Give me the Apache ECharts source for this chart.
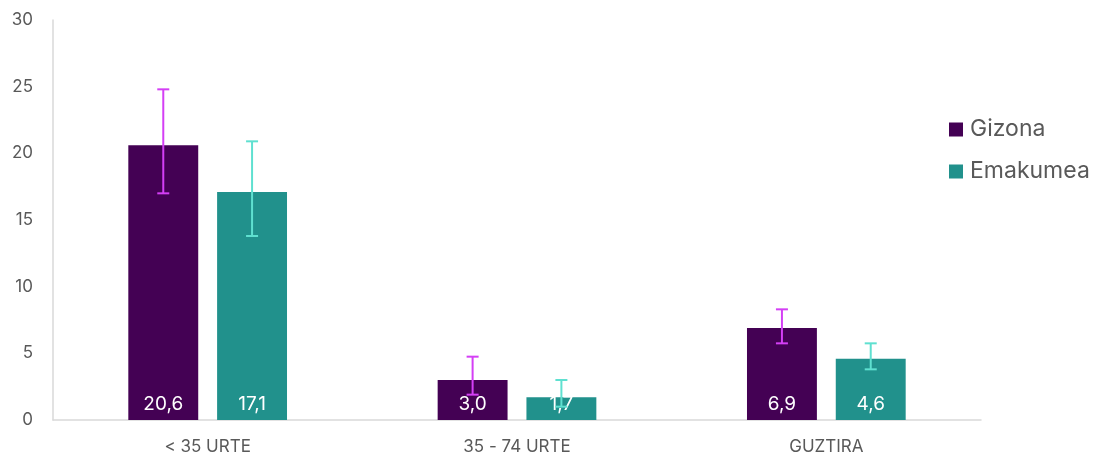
<!DOCTYPE html>
<html><head><meta charset="utf-8">
<script src="https://cdn.jsdelivr.net/npm/echarts@6/dist/echarts.min.js"></script>
<style>html,body{margin:0;padding:0;background:#fff}#c{width:1105px;height:457px}</style>
</head><body><div id="c"></div>
<script>
const categories = ['< 35 URTE', '35 - 74 URTE', 'GUZTIRA'];
const seriesNames = ['Gizona', 'Emakumea'];
const gizona = [20.6, 3.0, 6.9];
const emakumea = [17.1, 1.7, 4.6];
const gizonaLow = [17.0, 1.9, 5.75];
const gizonaHigh = [24.8, 4.75, 8.3];
const emakumeaLow = [13.8, 1.0, 3.8];
const emakumeaHigh = [20.9, 3.0, 5.75];
const yTicks = [0, 5, 10, 15, 20, 25, 30];

const barColors = ['#440154', '#21918c'];
const errColors = ['#d43ff5', '#5fe0d0'];
const FONT = 'Inter, sans-serif';
const BAR_W = 0.226, GAP = 0.27;

function errSeries(idx, low, high) {
  return {
    type: 'custom',
    name: seriesNames[idx] + ' err',
    z: 10,
    silent: true,
    data: categories.map((c, i) => [i, low[i], high[i]]),
    renderItem: function (params, api) {
      const i = api.value(0);
      const band = api.size([1, 0])[0];
      const w = band * BAR_W;
      const off = (w + w * GAP) / 2 * (idx === 0 ? -1 : 1);
      const pLow = api.coord([i, api.value(1)]);
      const pHigh = api.coord([i, api.value(2)]);
      const x = pLow[0] + off;
      const cap = 6;
      const style = { stroke: errColors[idx], lineWidth: 2, fill: null };
      return {
        type: 'group',
        children: [
          { type: 'line', shape: { x1: x, y1: pLow[1], x2: x, y2: pHigh[1] }, style: style },
          { type: 'line', shape: { x1: x - cap, y1: pLow[1], x2: x + cap, y2: pLow[1] }, style: style },
          { type: 'line', shape: { x1: x - cap, y1: pHigh[1], x2: x + cap, y2: pHigh[1] }, style: style }
        ]
      };
    }
  };
}

const chart = echarts.init(document.getElementById('c'), null, { renderer: 'canvas' });
chart.setOption({
  animation: false,
  textStyle: { fontFamily: FONT },
  grid: { left: 53, right: 124, top: 20, bottom: 37, containLabel: false },
  legend: {
    data: seriesNames,
    orient: 'vertical',
    left: 944,
    top: 113,
    itemWidth: 14,
    itemHeight: 14,
    itemGap: 19,
    icon: 'rect',
    textStyle: { fontSize: 23, color: '#595959', fontFamily: FONT, padding: [0, 0, 0, 2] }
  },
  xAxis: {
    type: 'category',
    data: categories,
    axisLine: { lineStyle: { color: '#d9d9d9', width: 1.5 } },
    axisTick: { show: false },
    axisLabel: { fontSize: 17, color: '#595959', margin: 18, fontFamily: FONT }
  },
  yAxis: {
    type: 'value',
    min: 0, max: 30, interval: 5,
    axisLine: { show: true, lineStyle: { color: '#d9d9d9', width: 1.5 } },
    axisTick: { show: false },
    splitLine: { show: false },
    axisLabel: { fontSize: 17, color: '#595959', margin: 20, fontFamily: FONT,
      formatter: v => yTicks.includes(v) ? String(v) : '' }
  },
  series: [
    {
      name: seriesNames[0], type: 'bar', data: gizona,
      barWidth: (BAR_W * 100) + '%', barGap: (GAP * 100) + '%',
      itemStyle: { color: barColors[0] },
      label: { show: true, position: 'insideBottom', distance: 6, color: '#fff', fontSize: 19,
        fontFamily: FONT, formatter: p => p.value.toFixed(1).replace('.', ',') }
    },
    {
      name: seriesNames[1], type: 'bar', data: emakumea,
      barWidth: (BAR_W * 100) + '%',
      itemStyle: { color: barColors[1] },
      label: { show: true, position: 'insideBottom', distance: 6, color: '#fff', fontSize: 19,
        fontFamily: FONT, formatter: p => p.value.toFixed(1).replace('.', ',') }
    },
    errSeries(0, gizonaLow, gizonaHigh),
    errSeries(1, emakumeaLow, emakumeaHigh)
  ]
});
</script></body></html>
